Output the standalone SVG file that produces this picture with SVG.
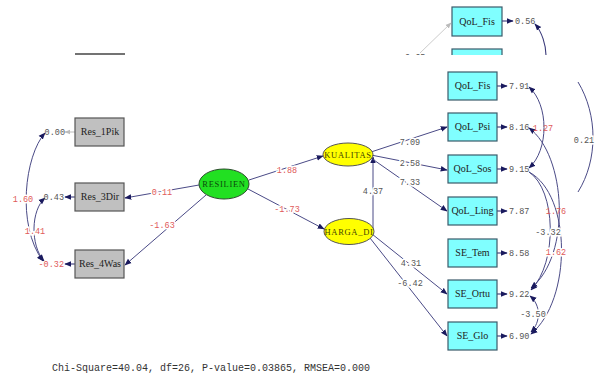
<svg xmlns="http://www.w3.org/2000/svg" width="603" height="376" viewBox="0 0 603 376">
<style>
.box{fill:#80ffff;stroke:#3a5a6a;stroke-width:1.2}
.gbox{fill:#c0c0c0;stroke:#555;stroke-width:1.2}
.lbl{font-family:"Liberation Serif",serif;font-size:10px;fill:#222;text-anchor:middle}
.lat{font-family:"Liberation Serif",serif;font-size:8.5px;letter-spacing:0.7px;text-anchor:middle}
.num{font-family:"Liberation Mono",monospace;font-size:8.5px;fill:#555}
.red{fill:#e05a5a}
.mid{text-anchor:middle}
.end{text-anchor:end}
.halo{stroke:#fff;stroke-width:3;paint-order:stroke}
.ln{fill:none;stroke:#4a4a86;stroke-width:1}
.ln2{fill:none;stroke:#3a3a7a;stroke-width:1.1}
</style>
<defs>
<marker id="ah" viewBox="0 0 10 10" refX="9" refY="5" markerWidth="7" markerHeight="7" markerUnits="userSpaceOnUse" orient="auto-start-reverse">
<path d="M0,1 L10,5 L0,9 Z" fill="#1a1a5e"/>
</marker>
<marker id="ahg" viewBox="0 0 10 10" refX="9" refY="5" markerWidth="6" markerHeight="6" markerUnits="userSpaceOnUse" orient="auto-start-reverse">
<path d="M0,1 L10,5 L0,9 Z" fill="#bbb"/>
</marker>
<clipPath id="topclip"><rect x="0" y="0" width="603" height="55"/></clipPath>
</defs>
<rect width="603" height="376" fill="#fff"/>

<g id="top-strip" clip-path="url(#topclip)">
<line x1="75" y1="54" x2="125" y2="54" stroke="#444" stroke-width="1.5"/>
<rect class="box" x="452" y="7" width="50" height="29"/>
<text class="lbl" x="477" y="25">QoL_Fis</text>
<rect class="box" x="452" y="49" width="50" height="29"/>
<line x1="420" y1="53" x2="451" y2="23" stroke="#ccc" stroke-width="1" marker-end="url(#ahg)"/>
<text class="num" x="405" y="60">0.65</text>
<line x1="502" y1="21" x2="513" y2="21" class="ln2" marker-end="url(#ah)"/>
<text class="num" x="515" y="24">0.56</text>
<path class="ln2" d="M546,56 C546,45 542,32 535,24" marker-end="url(#ah)"/>
</g>

<g id="connectors">
<!-- error arrows left -->
<line x1="75" y1="132" x2="65" y2="132" stroke="#bbb" stroke-width="1" marker-end="url(#ahg)"/>
<line x1="75" y1="197" x2="65" y2="197" class="ln2" marker-end="url(#ah)"/>
<line x1="75" y1="264" x2="65" y2="264" class="ln2" marker-end="url(#ah)"/>
<!-- left covariance curves -->
<path class="ln" d="M45,133 C25,155 16,225 43,261" marker-start="url(#ah)" marker-end="url(#ah)"/>
<path class="ln" d="M45,198 C31,210 30,245 44,261" marker-start="url(#ah)" marker-end="url(#ah)"/>
<!-- structural -->
<line class="ln" x1="199" y1="185" x2="125" y2="198" marker-end="url(#ah)"/>
<line class="ln" x1="206" y1="195" x2="125" y2="265" marker-end="url(#ah)"/>
<line class="ln" x1="249" y1="180" x2="323" y2="156" marker-end="url(#ah)"/>
<line class="ln" x1="248" y1="189" x2="324" y2="229" marker-end="url(#ah)"/>
<line class="ln" x1="373" y1="230" x2="373" y2="157" marker-end="url(#ah)"/>
<line class="ln" x1="371" y1="152" x2="447" y2="127" marker-end="url(#ah)"/>
<line class="ln" x1="371" y1="155" x2="447" y2="170" marker-end="url(#ah)"/>
<line class="ln" x1="371" y1="158" x2="447" y2="211" marker-end="url(#ah)"/>
<line class="ln" x1="372" y1="234" x2="447" y2="294" marker-end="url(#ah)"/>
<line class="ln" x1="370" y1="238" x2="447" y2="336" marker-end="url(#ah)"/>
<!-- error arrows right -->
<line x1="497" y1="86" x2="507" y2="86" class="ln2" marker-end="url(#ah)"/>
<line x1="497" y1="127" x2="507" y2="127" class="ln2" marker-end="url(#ah)"/>
<line x1="497" y1="169" x2="507" y2="169" class="ln2" marker-end="url(#ah)"/>
<line x1="497" y1="211" x2="507" y2="211" class="ln2" marker-end="url(#ah)"/>
<line x1="497" y1="253" x2="507" y2="253" class="ln2" marker-end="url(#ah)"/>
<line x1="497" y1="294" x2="507" y2="294" class="ln2" marker-end="url(#ah)"/>
<line x1="497" y1="336" x2="507" y2="336" class="ln2" marker-end="url(#ah)"/>
<!-- right covariance curves -->
<path class="ln" d="M529,87 C549,105 549,150 529,168" marker-start="url(#ah)" marker-end="url(#ah)"/>
<path class="ln" d="M578,82 C598,115 598,160 578,192"/>
<path class="ln" d="M529,128 C566,155 572,255 531,288" marker-start="url(#ah)" marker-end="url(#ah)"/>
<path class="ln" d="M529,172 C556,190 558,262 531,290" marker-end="url(#ah)"/>
<path class="ln" d="M529,172 C572,195 572,300 531,334" marker-end="url(#ah)"/>
<path class="ln" d="M530,296 C541,305 541,322 531,332" marker-start="url(#ah)" marker-end="url(#ah)"/>
</g>

<g id="Res_1Pik"><rect class="gbox" x="75" y="118" width="49" height="28"/><text class="lbl" x="100" y="135">Res_1Pik</text></g>
<g id="Res_3Dir"><rect class="gbox" x="75" y="183" width="49" height="28"/><text class="lbl" x="100" y="200">Res_3Dir</text></g>
<g id="Res_4Was"><rect class="gbox" x="75" y="250" width="49" height="28"/><text class="lbl" x="100" y="267">Res_4Was</text></g>

<g id="RESILIEN"><ellipse cx="224" cy="184" rx="25" ry="15" fill="#22e022" stroke="#2a4a2a" stroke-width="1"/><text class="lat" x="224" y="187" fill="#0a4a0a">RESILIEN</text></g>
<g id="KUALITAS"><ellipse cx="348" cy="154.5" rx="25" ry="11.5" fill="#ffff00" stroke="#555" stroke-width="1"/><text class="lat" x="348" y="157.5" fill="#444400">KUALITAS</text></g>
<g id="HARGA_DI"><ellipse cx="349" cy="231.5" rx="25" ry="13" fill="#ffff00" stroke="#555" stroke-width="1"/><text class="lat" x="349" y="234.5" fill="#444400">HARGA_DI</text></g>

<g id="QoL_Fis"><rect class="box" x="448" y="72" width="49" height="28"/><text class="lbl" x="472.5" y="89">QoL_Fis</text></g>
<g id="QoL_Psi"><rect class="box" x="448" y="113" width="49" height="28"/><text class="lbl" x="472.5" y="130">QoL_Psi</text></g>
<g id="QoL_Sos"><rect class="box" x="448" y="155" width="49" height="28"/><text class="lbl" x="472.5" y="172">QoL_Sos</text></g>
<g id="QoL_Ling"><rect class="box" x="448" y="197" width="49" height="28"/><text class="lbl" x="472.5" y="214">QoL_Ling</text></g>
<g id="SE_Tem"><rect class="box" x="448" y="239" width="49" height="28"/><text class="lbl" x="472.5" y="256">SE_Tem</text></g>
<g id="SE_Ortu"><rect class="box" x="448" y="280" width="49" height="28"/><text class="lbl" x="472.5" y="297">SE_Ortu</text></g>
<g id="SE_Glo"><rect class="box" x="448" y="322" width="49" height="28"/><text class="lbl" x="472.5" y="339">SE_Glo</text></g>

<g id="labels">
<text class="num end" x="65" y="135">0.00</text>
<text class="num end" x="64" y="200">0.43</text>
<text class="num end red" x="64" y="267">-0.32</text>
<text class="num mid red halo" x="23" y="202">1.60</text>
<text class="num mid red halo" x="35" y="234">1.41</text>
<text class="num mid red halo" x="162" y="195">0.11</text>
<text class="num mid red halo" x="162" y="228">-1.63</text>
<text class="num mid red halo" x="287" y="173">1.88</text>
<text class="num mid red halo" x="287" y="212">-1.73</text>
<text class="num mid halo" x="373" y="194">4.37</text>
<text class="num mid halo" x="410" y="145">7.09</text>
<text class="num mid halo" x="410" y="166">2.58</text>
<text class="num mid halo" x="410" y="185">7.33</text>
<text class="num mid halo" x="411" y="266">4.31</text>
<text class="num mid halo" x="410" y="286">-6.42</text>
<text class="num" x="509" y="89">7.91</text>
<text class="num" x="509" y="130">8.16</text>
<text class="num" x="509" y="172">9.15</text>
<text class="num" x="509" y="214">7.87</text>
<text class="num" x="509" y="256">8.58</text>
<text class="num" x="509" y="297">9.22</text>
<text class="num" x="509" y="339">6.90</text>
<text class="num mid red" x="543" y="131">1.27</text>
<text class="num mid halo" x="584" y="143">0.21</text>
<text class="num mid red" x="556" y="214">1.76</text>
<text class="num mid halo" x="548" y="235">-3.32</text>
<text class="num mid red halo" x="556" y="255">1.62</text>
<text class="num mid halo" x="533" y="317">-3.50</text>
</g>

<text x="52" y="371" font-family="Liberation Mono, monospace" font-size="10px" fill="#333">Chi-Square=40.04, df=26, P-value=0.03865, RMSEA=0.000</text>
</svg>
